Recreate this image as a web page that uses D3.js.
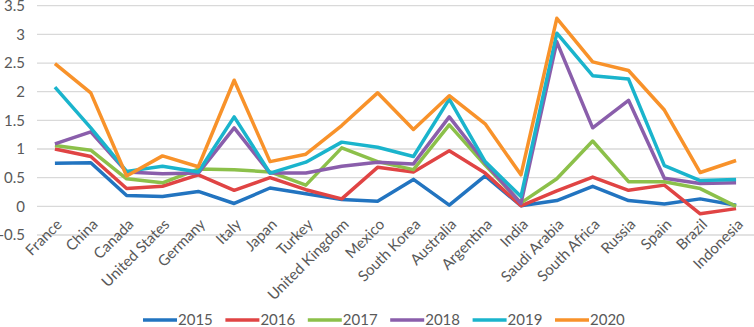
<!DOCTYPE html>
<html>
<head>
<meta charset="utf-8">
<script src="https://cdn.jsdelivr.net/npm/d3@7.9.0/dist/d3.min.js"></script>
<style>
  body { margin: 0; background: #fff; }
  text { font-family: Lato, "Open Sans", sans-serif; fill: #595959; }
</style>
</head>
<body>
<svg id="chart" width="754" height="327"></svg>
<script>
const countries = ['France', 'China', 'Canada', 'United States', 'Germany', 'Italy', 'Japan', 'Turkey',
  'United Kingdom', 'Mexico', 'South Korea', 'Australia', 'Argentina', 'India', 'Saudi Arabia',
  'South Africa', 'Russia', 'Spain', 'Brazil', 'Indonesia'];
const years = ['2015', '2016', '2017', '2018', '2019', '2020'];
const colorList = ['#2274c0', '#e04444', '#8cc04a', '#8a5eab', '#1ab4cc', '#f8922a'];

const v2015 = [0.75, 0.76, 0.19, 0.17, 0.26, 0.05, 0.32, 0.22, 0.12, 0.09, 0.47, 0.02, 0.53, 0.01, 0.10, 0.35, 0.10, 0.04, 0.13, 0.02];
const v2016 = [1.00, 0.87, 0.31, 0.35, 0.55, 0.28, 0.50, 0.29, 0.13, 0.68, 0.60, 0.97, 0.58, 0.01, 0.27, 0.51, 0.28, 0.37, -0.13, -0.04];
const v2017 = [1.06, 0.98, 0.48, 0.41, 0.65, 0.64, 0.60, 0.37, 1.02, 0.78, 0.64, 1.42, 0.72, 0.06, 0.48, 1.14, 0.43, 0.43, 0.31, 0.00];
const v2018 = [1.09, 1.30, 0.60, 0.57, 0.58, 1.37, 0.58, 0.58, 0.70, 0.77, 0.74, 1.56, 0.76, 0.05, 2.87, 1.37, 1.85, 0.49, 0.40, 0.41];
const v2019 = [2.08, 1.37, 0.61, 0.70, 0.60, 1.56, 0.58, 0.77, 1.12, 1.03, 0.87, 1.87, 0.78, 0.17, 3.02, 2.28, 2.22, 0.71, 0.45, 0.47];
const v2020 = [2.49, 1.98, 0.53, 0.88, 0.69, 2.20, 0.78, 0.91, 1.41, 1.98, 1.34, 1.93, 1.44, 0.55, 3.28, 2.52, 2.37, 1.68, 0.59, 0.80];
const seriesValues = [v2015, v2016, v2017, v2018, v2019, v2020];
const yTicks = [-0.5, 0, 0.5, 1, 1.5, 2, 2.5, 3, 3.5];

const svg = d3.select('#chart');
const plotLeft = 37, plotRight = 754, plotTop = 5.7, plotBottom = 235;

const x = d3.scalePoint().domain(countries).range([plotLeft, plotRight]).padding(0.5);
const y = d3.scaleLinear().domain([-0.5, 3.5]).range([plotBottom, plotTop]);

// gridlines
svg.append('g')
  .selectAll('line')
  .data(yTicks)
  .join('line')
  .attr('x1', plotLeft)
  .attr('x2', plotRight)
  .attr('y1', d => y(d))
  .attr('y2', d => y(d))
  .attr('stroke', '#d9d9d9')
  .attr('stroke-width', 1.3);

// y labels
svg.append('g')
  .selectAll('text')
  .data(yTicks)
  .join('text')
  .attr('x', 25)
  .attr('y', d => y(d))
  .attr('dy', '0.35em')
  .attr('text-anchor', 'end')
  .attr('font-size', 15)
  .text(d => d);

// category labels, rotated
svg.append('g')
  .selectAll('text')
  .data(countries)
  .join('text')
  .attr('transform', d => `translate(${x(d) + 8},${y(0) + 19}) rotate(-45)`)
  .attr('text-anchor', 'end')
  .attr('font-size', 15)
  .text(d => d);

// lines
const line = d3.line()
  .x((d, i) => x(countries[i]))
  .y(d => y(d));

svg.append('g')
  .selectAll('path')
  .data(seriesValues)
  .join('path')
  .attr('d', d => line(d))
  .attr('fill', 'none')
  .attr('stroke', (d, i) => colorList[i])
  .attr('stroke-width', 3.5)
  .attr('stroke-linejoin', 'round');

// legend
const legend = svg.append('g').attr('transform', 'translate(143,320)');
years.forEach((yr, i) => {
  const g = legend.append('g').attr('transform', `translate(${i * 82.4},0)`);
  g.append('line')
    .attr('x1', 0).attr('x2', 34)
    .attr('y1', 0).attr('y2', 0)
    .attr('stroke', colorList[i])
    .attr('stroke-width', 3.5);
  g.append('text')
    .attr('x', 35)
    .attr('y', 0)
    .attr('dy', '0.35em')
    .attr('font-size', 15)
    .text(yr);
});
</script>
</body>
</html>
